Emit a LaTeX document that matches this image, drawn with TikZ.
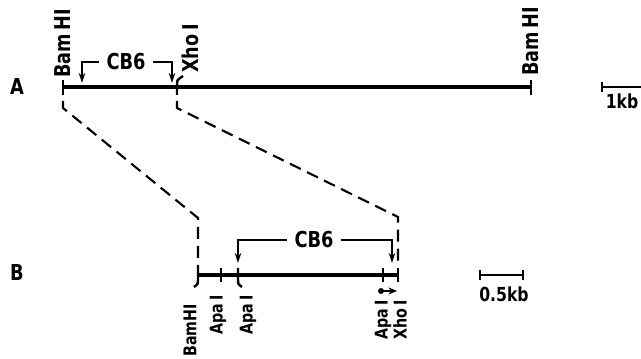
\documentclass[tikz,border=0pt]{standalone}
\usepackage{fontspec}
\setmainfont{DejaVu Sans Condensed}[FakeStretch=0.9]
\usetikzlibrary{arrows.meta}

\begin{document}
\begin{tikzpicture}[x=0.2mm, y=-0.2mm,
		  every node/.style = {inner sep=1pt},
		  dna/.style = {line width=2pt},
		  cut/.style = {line width=1.4pt},
		  site/.style = {rotate=90, inner sep=0pt, font=\fontsize{12.4}{14}\selectfont\bfseries},
		  siteB/.style = {rotate=90, inner sep=0pt, font=\fontsize{10}{12}\selectfont\bfseries},
		  tag/.style = {font=\fontsize{12.5}{14}\selectfont\bfseries},
		  cbsix/.style = {inner xsep=4pt, font=\fontsize{12.5}{14}\selectfont\bfseries},
		  region/.style = {line width=1.1pt, -{Stealth[length=2mm, width=1.3mm]}},
		  zoomline/.style = {line width=1.2pt, dash pattern=on 2.4mm off 1.4mm},
		  bar/.style = {font=\fontsize{11}{13}\selectfont\bfseries}
		]
		  \useasboundingbox (0,0) rectangle (641,359);

		  \node[tag] (mapA) at (17,87) {A};
		  \node[tag] (mapB) at (17,273) {B};

		  \coordinate (a0) at (63,87);
		  \coordinate (ax) at (177,87);
		  \coordinate (a1) at (531,87);
		  \draw[dna] (a0) -- (a1);
		  \draw[cut] (a0) ++(0,-7) -- ++(0,15);
		  \draw[cut] (a1) ++(0,-7) -- ++(0,15);
		  \draw[cut] (177,95) -- (177,85) .. controls (177,80) .. (183,76);
		  \node[site, anchor=west] (bamA1) at (63,78) {Bam\,HI};
		  \node[site, anchor=west] (xhoA) at (190,73) {Xho\,I};
		  \node[site, anchor=west] (bamA2) at (531,76) {Bam\,HI};

		  \node[cbsix] (cbA) at (126,62) {CB6};
		  \coordinate (cbAl) at (82,83);
		  \coordinate (cbAr) at (172,83);
		  \draw[region] (cbA.west) -| (cbAl);
		  \draw[region] (cbA.east) -| (cbAr);

		  \coordinate (b0) at (198,275);
		  \coordinate (b1) at (398,275);
		  \draw[zoomline] (63,101) -- (63,108) -- (198,218) -- (198,268);
		  \draw[zoomline] (177,101) -- (177,108) -- (398,217) -- (398,266);

		  \draw[dna] (b0) -- (b1);
		  \draw[cut] (198,268) -- (198,280) .. controls (198,284) .. (194,287);
		  \draw[cut] (221,268) -- (221,282);
		  \draw[cut] (238,268) -- (238,280) .. controls (238,284) .. (242,287);
		  \draw[cut] (383,268) -- (383,282);
		  \draw[cut] (398,268) -- (398,282);
		  \node[siteB, anchor=east] (bamB) at (190,304) {BamHI};
		  \node[siteB, anchor=east] (apaB1) at (218,295) {Apa\,I};
		  \node[siteB, anchor=east] (apaB2) at (248,295) {Apa\,I};
		  \node[siteB, anchor=east] (apaB3) at (383,300) {Apa\,I};
		  \node[siteB, anchor=east] (xhoB) at (400,300) {Xho\,I};

		  \node[cbsix] (cbB) at (314,240) {CB6};
		  \coordinate (cbBl) at (238,263);
		  \coordinate (cbBr) at (392,263);
		  \draw[region] (cbB.west) -| (cbBl);
		  \draw[region] (cbB.east) -| (cbBr);

		  \coordinate (dir0) at (381,291);
		  \coordinate (dir1) at (397,291);
		  \fill (dir0) circle (3);
		  \draw[line width=1.1pt, -{Stealth[length=1.7mm, width=1.4mm]}] (dir0) -- (dir1);

		  \draw[cut] (602,87) -- (641,87);
		  \draw[cut] (602,82) -- (602,92);
		  \node[bar] (kbA) at (622,101) {1kb};

		  \draw[cut] (480,275) -- (523,275);
		  \draw[cut] (480,270) -- (480,280);
		  \draw[cut] (523,270) -- (523,280);
		  \node[bar] (kbB) at (504,294) {0.5kb};
		\end{tikzpicture}
\end{document}
